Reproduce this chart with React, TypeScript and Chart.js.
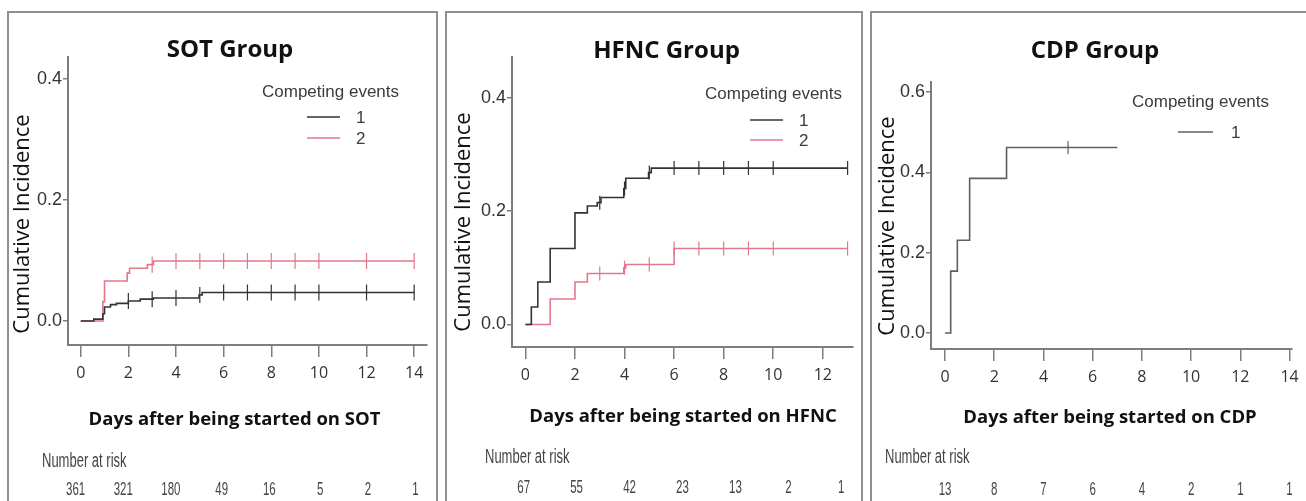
import { useEffect, useRef } from "react";
import { Chart, registerables } from "chart.js";

Chart.register(...registerables);

// ---------- SOT group ----------
const sotXTicks = [0, 2, 4, 6, 8, 10, 12, 14];
const sotYTicks = [0, 0.2, 0.4];
const sotEvent1Times = [0, 0.55, 0.93, 1.0, 1.25, 1.5, 2.0, 2.5, 3.05, 4.97, 5.1, 14];
const sotEvent1Values = [0, 0.003, 0.012, 0.023, 0.027, 0.029, 0.033, 0.036, 0.038, 0.043, 0.047, 0.047];
const sotEvent1Censor = [2, 3, 4, 5, 6, 7, 8, 9, 10, 12, 14];
const sotEvent2Times = [0, 0.93, 1.0, 1.95, 2.05, 2.8, 3.05, 14];
const sotEvent2Values = [0, 0.032, 0.066, 0.079, 0.087, 0.093, 0.099, 0.099];
const sotEvent2Censor = [3, 4, 5, 6, 7, 8, 9, 10, 12, 14];
const sotRiskTimes = [0, 2, 4, 6, 8, 10, 12, 14];
const sotAtRisk = [361, 321, 180, 49, 16, 5, 2, 1];

// ---------- HFNC group ----------
const hfncXTicks = [0, 2, 4, 6, 8, 10, 12];
const hfncYTicks = [0, 0.2, 0.4];
const hfncEvent1Times = [0, 0.24, 0.5, 1.0, 2.0, 2.5, 2.9, 3.05, 3.97, 4.05, 4.97, 5.08, 13];
const hfncEvent1Values = [0, 0.031, 0.075, 0.134, 0.197, 0.209, 0.215, 0.224, 0.24, 0.258, 0.268, 0.276, 0.276];
const hfncEvent1Censor = [3, 4, 5, 6, 7, 8, 9, 10, 13];
const hfncEvent2Times = [0, 1.0, 2.0, 2.5, 3.97, 4.05, 6.0, 13];
const hfncEvent2Values = [0, 0.045, 0.075, 0.09, 0.1, 0.106, 0.134, 0.134];
const hfncEvent2Censor = [3, 4, 5, 6, 7, 8, 9, 10, 13];
const hfncRiskTimes = [0, 2, 4, 6, 8, 10, 12];
const hfncAtRisk = [67, 55, 42, 23, 13, 2, 1];

// ---------- CDP group ----------
const cdpXTicks = [0, 2, 4, 6, 8, 10, 12, 14];
const cdpYTicks = [0, 0.2, 0.4, 0.6];
const cdpEvent1Times = [0, 0.23, 0.5, 1.0, 2.5, 7.0];
const cdpEvent1Values = [0, 0.154, 0.231, 0.385, 0.462, 0.462];
const cdpEvent1Censor = [5];
const cdpRiskTimes = [0, 2, 4, 6, 8, 10, 12, 14];
const cdpAtRisk = [13, 8, 7, 6, 4, 2, 1, 1];

const LEGEND_TITLE = "Competing events";
const Y_TITLE = "Cumulative Incidence";
const RISK_TITLE = "Number at risk";

const COLOR_1 = "#333333";
const COLOR_2 = "#e3778b";
const COLOR_CDP = "#606060";
const AXIS_COLOR = "#7d7d7d";

type Curve = { label: string; times: number[]; values: number[]; censor: number[]; color: string };
type Pt = { x: number; y: number };
type Panel = {
  title: string;
  xTitle: string;
  xTicks: number[];
  yTicks: number[];
  curves: Curve[];
  riskTimes: number[];
  riskCounts: number[];
  canvas: { x: number; y: number; w: number; h: number };
  area: { left: number; right: number; top: number; bottom: number };
  xRange: [number, number];
  yRange: [number, number];
  titlePos: Pt;
  xTitlePos: Pt;
  yTitlePos: Pt;
  legendPos: Pt;
  legendLine: [number, number];
  legendItemY: number;
  legendGap: number;
  legendLabelX: number;
  riskHeaderPos: Pt;
  riskBaseline: number;
  riskAlign: "center" | "right";
  riskShift: number;
  riskStretch: number;
  riskOffset: number;
  censorRadius: number;
  lineWidth: number;
};

function stepValueAt(times: number[], values: number[], t: number) {
  let v = values[0];
  for (let i = 0; i < times.length; i++) if (times[i] <= t) v = values[i];
  return v;
}

const panels: Panel[] = [
  {
    title: "SOT Group",
    xTitle: "Days after being started on SOT",
    xTicks: sotXTicks,
    yTicks: sotYTicks,
    curves: [
      { label: "1", times: sotEvent1Times, values: sotEvent1Values, censor: sotEvent1Censor, color: COLOR_1 },
      { label: "2", times: sotEvent2Times, values: sotEvent2Values, censor: sotEvent2Censor, color: COLOR_2 },
    ],
    riskTimes: sotRiskTimes,
    riskCounts: sotAtRisk,
    canvas: { x: 9, y: 13, w: 427, h: 488 },
    area: { left: 68, right: 435, top: 57, bottom: 345 },
    xRange: [-0.534, 14.53],
    yRange: [-0.0397, 0.436],
    titlePos: { x: 230, y: 57 },
    xTitlePos: { x: 234.5, y: 425 },
    yTitlePos: { x: 23, y: 224 },
    legendPos: { x: 262, y: 97 },
    legendLine: [307, 340],
    legendItemY: 117,
    legendGap: 21,
    legendLabelX: 356,
    riskHeaderPos: { x: 42, y: 467 },
    riskBaseline: 495,
    riskAlign: "right",
    riskShift: 4.5,
    riskStretch: 1,
    riskOffset: 0,
    censorRadius: 8,
    lineWidth: 1.6,
  },
  {
    title: "HFNC Group",
    xTitle: "Days after being started on HFNC",
    xTicks: hfncXTicks,
    yTicks: hfncYTicks,
    curves: [
      { label: "1", times: hfncEvent1Times, values: hfncEvent1Values, censor: hfncEvent1Censor, color: COLOR_1 },
      { label: "2", times: hfncEvent2Times, values: hfncEvent2Values, censor: hfncEvent2Censor, color: COLOR_2 },
    ],
    riskTimes: hfncRiskTimes,
    riskCounts: hfncAtRisk,
    canvas: { x: 447, y: 13, w: 414, h: 488 },
    area: { left: 512, right: 860, top: 57, bottom: 347 },
    xRange: [-0.54, 13.21],
    yRange: [-0.0397, 0.472],
    titlePos: { x: 666.5, y: 58 },
    xTitlePos: { x: 683, y: 422 },
    yTitlePos: { x: 464, y: 222 },
    legendPos: { x: 705, y: 99 },
    legendLine: [750, 783],
    legendItemY: 120,
    legendGap: 20,
    legendLabelX: 799,
    riskHeaderPos: { x: 485, y: 463 },
    riskBaseline: 493,
    riskAlign: "center",
    riskShift: 0,
    riskStretch: 1.068,
    riskOffset: -0.07,
    censorRadius: 7,
    lineWidth: 1.6,
  },
  {
    title: "CDP Group",
    xTitle: "Days after being started on CDP",
    xTicks: cdpXTicks,
    yTicks: cdpYTicks,
    curves: [{ label: "1", times: cdpEvent1Times, values: cdpEvent1Values, censor: cdpEvent1Censor, color: COLOR_CDP }],
    riskTimes: cdpRiskTimes,
    riskCounts: cdpAtRisk,
    canvas: { x: 872, y: 13, w: 434, h: 488 },
    area: { left: 931, right: 1292, top: 82, bottom: 349 },
    xRange: [-0.57, 14.1],
    yRange: [-0.04, 0.625],
    titlePos: { x: 1095, y: 58 },
    xTitlePos: { x: 1110, y: 423 },
    yTitlePos: { x: 888, y: 226 },
    legendPos: { x: 1132, y: 107 },
    legendLine: [1178, 1213],
    legendItemY: 132,
    legendGap: 20,
    legendLabelX: 1231,
    riskHeaderPos: { x: 885, y: 463 },
    riskBaseline: 495,
    riskAlign: "center",
    riskShift: 0,
    riskStretch: 1,
    riskOffset: 0,
    censorRadius: 6.5,
    lineWidth: 1.6,
  },
];

const SANS = "'Open Sans', 'DejaVu Sans', sans-serif";
const ARIAL = "'Liberation Sans', Arial, sans-serif";
const RISK_STRETCH_Y = 1.55;

function panelTextPlugin(p: Panel) {
  return {
    id: "panelText",
    afterDraw(chart: any) {
      const ctx: CanvasRenderingContext2D = chart.ctx;
      const ox = p.canvas.x;
      const oy = p.canvas.y;
      ctx.save();

      // group title
      ctx.fillStyle = "#111111";
      ctx.textAlign = "center";
      ctx.textBaseline = "alphabetic";
      ctx.font = `700 24px ${SANS}`;
      ctx.fillText(p.title, p.titlePos.x - ox, p.titlePos.y - oy);

      // x axis title
      ctx.font = `700 18.5px ${SANS}`;
      ctx.fillText(p.xTitle, p.xTitlePos.x - ox, p.xTitlePos.y - oy);

      // y axis title
      ctx.save();
      ctx.translate(p.yTitlePos.x - ox, p.yTitlePos.y - oy);
      ctx.rotate(-Math.PI / 2);
      ctx.font = `400 22px ${SANS}`;
      ctx.textBaseline = "middle";
      ctx.fillText(Y_TITLE, 0, 0);
      ctx.restore();

      // legend
      ctx.fillStyle = "#3c3c3c";
      ctx.textAlign = "left";
      ctx.font = `400 17px ${ARIAL}`;
      ctx.fillText(LEGEND_TITLE, p.legendPos.x - ox, p.legendPos.y - oy);
      p.curves.forEach((c, i) => {
        const y = p.legendItemY + i * p.legendGap - oy;
        ctx.strokeStyle = c.color;
        ctx.lineWidth = 1.6;
        ctx.beginPath();
        ctx.moveTo(p.legendLine[0] - ox, y);
        ctx.lineTo(p.legendLine[1] - ox, y);
        ctx.stroke();
        ctx.textBaseline = "middle";
        ctx.fillText(c.label, p.legendLabelX - ox, y + 1);
        ctx.textBaseline = "alphabetic";
      });

      // number at risk table
      ctx.fillStyle = "#444444";
      ctx.save();
      ctx.translate(p.riskHeaderPos.x - ox, p.riskHeaderPos.y - oy);
      ctx.scale(1, RISK_STRETCH_Y);
      ctx.textAlign = "left";
      ctx.font = `400 13px ${ARIAL}`;
      ctx.fillText(RISK_TITLE, 0, 0);
      ctx.restore();

      const xs = chart.scales.x;
      p.riskTimes.forEach((t, i) => {
        const px = xs.getPixelForValue(p.riskOffset + t * p.riskStretch) + p.riskShift;
        ctx.save();
        ctx.translate(px, p.riskBaseline - oy);
        ctx.scale(1, RISK_STRETCH_Y);
        ctx.textAlign = p.riskAlign;
        ctx.font = `400 11.5px ${ARIAL}`;
        ctx.fillText(String(p.riskCounts[i]), 0, 0);
        ctx.restore();
      });

      ctx.restore();
    },
  };
}

function buildChart(canvas: HTMLCanvasElement, p: Panel) {
  const datasets: any[] = [];
  p.curves.forEach((c) => {
    datasets.push({
      type: "line",
      label: c.label,
      data: c.times.map((t, i) => ({ x: t, y: c.values[i] })),
      borderColor: c.color,
      borderWidth: p.lineWidth,
      stepped: "before",
      pointRadius: 0,
      fill: false,
    });
    datasets.push({
      type: "line",
      label: `${c.label} censored`,
      data: c.censor.map((t) => ({ x: t, y: stepValueAt(c.times, c.values, t) })),
      showLine: false,
      pointStyle: "line",
      pointRotation: 90,
      pointRadius: p.censorRadius,
      pointBorderColor: c.color,
      pointBorderWidth: 1.2,
      borderColor: c.color,
    });
  });

  const xHeight = p.canvas.y + p.canvas.h - p.area.bottom;
  const yWidth = p.area.left - p.canvas.x;

  return new Chart(canvas, {
    type: "line",
    data: { datasets },
    options: {
      animation: false,
      responsive: false,
      maintainAspectRatio: false,
      devicePixelRatio: 1,
      layout: {
        padding: {
          left: 0,
          top: p.area.top - p.canvas.y,
          right: p.canvas.x + p.canvas.w - p.area.right,
          bottom: 0,
        },
      },
      plugins: { legend: { display: false }, tooltip: { enabled: false }, title: { display: false } },
      scales: {
        x: {
          type: "linear",
          min: p.xRange[0],
          max: p.xRange[1],
          afterBuildTicks: (s: any) => {
            s.ticks = p.xTicks.map((v) => ({ value: v }));
          },
          afterFit: (s: any) => {
            s.height = xHeight;
          },
          grid: { display: true, drawOnChartArea: false, drawTicks: true, tickLength: 12, color: AXIS_COLOR, lineWidth: 1.5 },
          border: { display: true, color: AXIS_COLOR, width: 2 },
          ticks: {
            autoSkip: false,
            maxRotation: 0,
            padding: 7,
            color: "#333333",
            font: { family: SANS, size: 16 },
            callback: (v: any) => String(v),
          },
        },
        y: {
          type: "linear",
          min: p.yRange[0],
          max: p.yRange[1],
          afterBuildTicks: (s: any) => {
            s.ticks = p.yTicks.map((v) => ({ value: v }));
          },
          afterFit: (s: any) => {
            s.width = yWidth;
          },
          grid: { display: true, drawOnChartArea: false, drawTicks: true, tickLength: 5, color: AXIS_COLOR, lineWidth: 1.5 },
          border: { display: true, color: AXIS_COLOR, width: 2 },
          ticks: {
            padding: 1,
            color: "#333333",
            font: { family: ARIAL, size: 18 },
            callback: (v: any) => Number(v).toFixed(1),
          },
        },
      },
    },
    plugins: [panelTextPlugin(p)],
  } as any);
}

function PanelChart({ p }: { p: Panel }) {
  const ref = useRef<HTMLCanvasElement | null>(null);
  useEffect(() => {
    if (!ref.current) return;
    const chart = buildChart(ref.current, p);
    return () => chart.destroy();
  }, [p]);
  return (
    <canvas
      ref={ref}
      width={p.canvas.w}
      height={p.canvas.h}
      style={{ position: "absolute", left: p.canvas.x, top: p.canvas.y, width: p.canvas.w, height: p.canvas.h }}
    />
  );
}

const frames = [
  { left: 7, width: 431 },
  { left: 445, width: 418 },
  { left: 870, width: 440 },
];

export default function App() {
  return (
    <div
      style={{
        position: "absolute",
        left: 0,
        top: 0,
        width: 1306,
        height: 501,
        overflow: "hidden",
        background: "#ffffff",
      }}
    >
      {panels.map((p, i) => (
        <PanelChart key={i} p={p} />
      ))}
      {frames.map((f, i) => (
        <div
          key={`f${i}`}
          style={{
            position: "absolute",
            left: f.left,
            top: 11,
            width: f.width,
            height: 600,
            boxSizing: "border-box",
            border: "2px solid #8f8f8f",
            pointerEvents: "none",
          }}
        />
      ))}
    </div>
  );
}
